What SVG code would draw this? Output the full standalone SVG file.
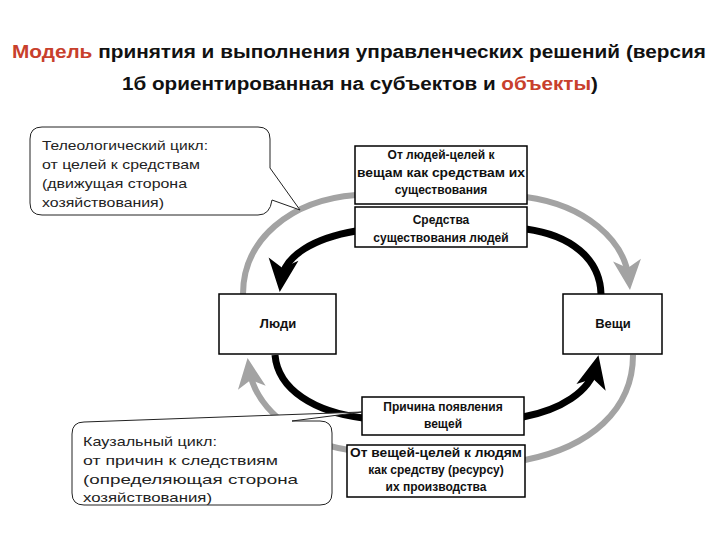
<svg xmlns="http://www.w3.org/2000/svg" width="720" height="540" viewBox="0 0 720 540">
<style>
.title{font-family:"Liberation Sans",Arial,sans-serif;font-weight:bold;font-size:18px;fill:#111}
.red{fill:#c8402c}
.box{fill:#fff;stroke:#000;stroke-width:1.5}
.bt{font-family:"Liberation Sans",Arial,sans-serif;font-weight:bold;font-size:12px;fill:#111;text-anchor:middle}
.nt{font-family:"Liberation Sans",Arial,sans-serif;font-weight:bold;font-size:13px;fill:#111;text-anchor:middle}
.ct{font-family:"Liberation Sans",Arial,sans-serif;font-size:13.5px;fill:#222}
.call{fill:#fff;stroke:#222;stroke-width:1}
.g{fill:none;stroke:#a3a3a3;stroke-width:6}
.k{fill:none;stroke:#000;stroke-width:7}
</style>
<defs>
<marker id="ak" markerUnits="userSpaceOnUse" orient="auto" overflow="visible" markerWidth="1" markerHeight="1" refX="0" refY="0">
<path d="M11,0 L-22,-15 L-13,0 L-22,15 Z" fill="#000"/>
</marker>
<marker id="ag" markerUnits="userSpaceOnUse" orient="auto" overflow="visible" markerWidth="1" markerHeight="1" refX="0" refY="0">
<path d="M10,0 L-20,-14 L-12,0 L-20,14 Z" fill="#a3a3a3"/>
</marker>
</defs>
<g id="title">
<text class="title" x="12" y="58" textLength="694" lengthAdjust="spacingAndGlyphs"><tspan class="red">Модель</tspan> принятия и выполнения управленческих решений (версия</text>
<text class="title" x="122" y="90" textLength="476" lengthAdjust="spacingAndGlyphs">1б ориентированная на субъектов и <tspan class="red">объекты</tspan>)</text>
</g>
<g id="connectors">
<path class="g" d="M243,294 C243,240 290,200 356,195"/>
<path class="g" d="M526,197 C585,205 625,240 629,280" marker-end="url(#ag)"/>
<path class="g" d="M633,355 C633,410 590,447 525,460"/>
<path class="g" d="M349,450 C300,443 255,410 249,368" marker-end="url(#ag)"/>
<path class="k" d="M356,231 C315,238 284,255 281,281" marker-end="url(#ak)"/>
<path class="k" d="M526,229 C570,235 600,258 601,294"/>
<path class="k" d="M275,355 C278,390 315,412 363,418"/>
<path class="k" d="M523,417 C560,410 590,392 596,366" marker-end="url(#ak)"/>
</g>
<g id="box-top1">
<rect class="box" x="355" y="146" width="172" height="58"/>
<text class="bt" x="441" y="159">От людей-целей к</text>
<text class="bt" x="441" y="177" textLength="168" lengthAdjust="spacingAndGlyphs">вещам как средствам их</text>
<text class="bt" x="441" y="194">существования</text>
</g>
<g id="box-top2">
<rect class="box" x="355" y="207" width="172" height="40"/>
<text class="bt" x="441" y="224">Средства</text>
<text class="bt" x="441" y="242">существования людей</text>
</g>
<g id="node-people">
<rect class="box" x="219" y="294" width="117" height="60"/>
<text class="nt" x="278" y="328">Люди</text>
</g>
<g id="node-things">
<rect class="box" x="563" y="294" width="99" height="60"/>
<text class="nt" x="613" y="328">Вещи</text>
</g>
<g id="box-bottom1">
<rect class="box" x="362" y="397" width="162" height="38"/>
<text class="bt" x="443" y="411">Причина появления</text>
<text class="bt" x="443" y="428">вещей</text>
</g>
<g id="box-bottom2">
<rect class="box" x="347" y="445" width="178" height="52"/>
<text class="bt" x="436" y="457" textLength="172" lengthAdjust="spacingAndGlyphs">От вещей-целей к людям</text>
<text class="bt" x="436" y="474">как средству (ресурсу)</text>
<text class="bt" x="436" y="491">их производства</text>
</g>
<g id="callout-teleological">
<path class="call" d="M42,127 H258 Q270,127 270,139 V168 L300,210 L272,200 Q270,215 258,215 H42 Q30,215 30,203 V139 Q30,127 42,127 Z"/>
<text class="ct" x="42" y="150" textLength="166" lengthAdjust="spacingAndGlyphs">Телеологический цикл:</text>
<text class="ct" x="42" y="169" textLength="158" lengthAdjust="spacingAndGlyphs">от целей к средствам</text>
<text class="ct" x="42" y="188" textLength="145" lengthAdjust="spacingAndGlyphs">(движущая сторона</text>
<text class="ct" x="42" y="207" textLength="122" lengthAdjust="spacingAndGlyphs">хозяйствования)</text>
</g>
<g id="callout-causal">
<path class="call" d="M84,422 L362,412 L292,421 H320 Q332,421 332,433 V493 Q332,505 320,505 H84 Q72,505 72,493 V434 Q72,422 84,422 Z"/>
<text class="ct" x="83" y="446" textLength="134" lengthAdjust="spacingAndGlyphs">Каузальный цикл:</text>
<text class="ct" x="83" y="465" textLength="195" lengthAdjust="spacingAndGlyphs">от причин к следствиям</text>
<text class="ct" x="83" y="484" textLength="215" lengthAdjust="spacingAndGlyphs">(определяющая сторона</text>
<text class="ct" x="83" y="502" textLength="129" lengthAdjust="spacingAndGlyphs">хозяйствования)</text>
</g>
</svg>
